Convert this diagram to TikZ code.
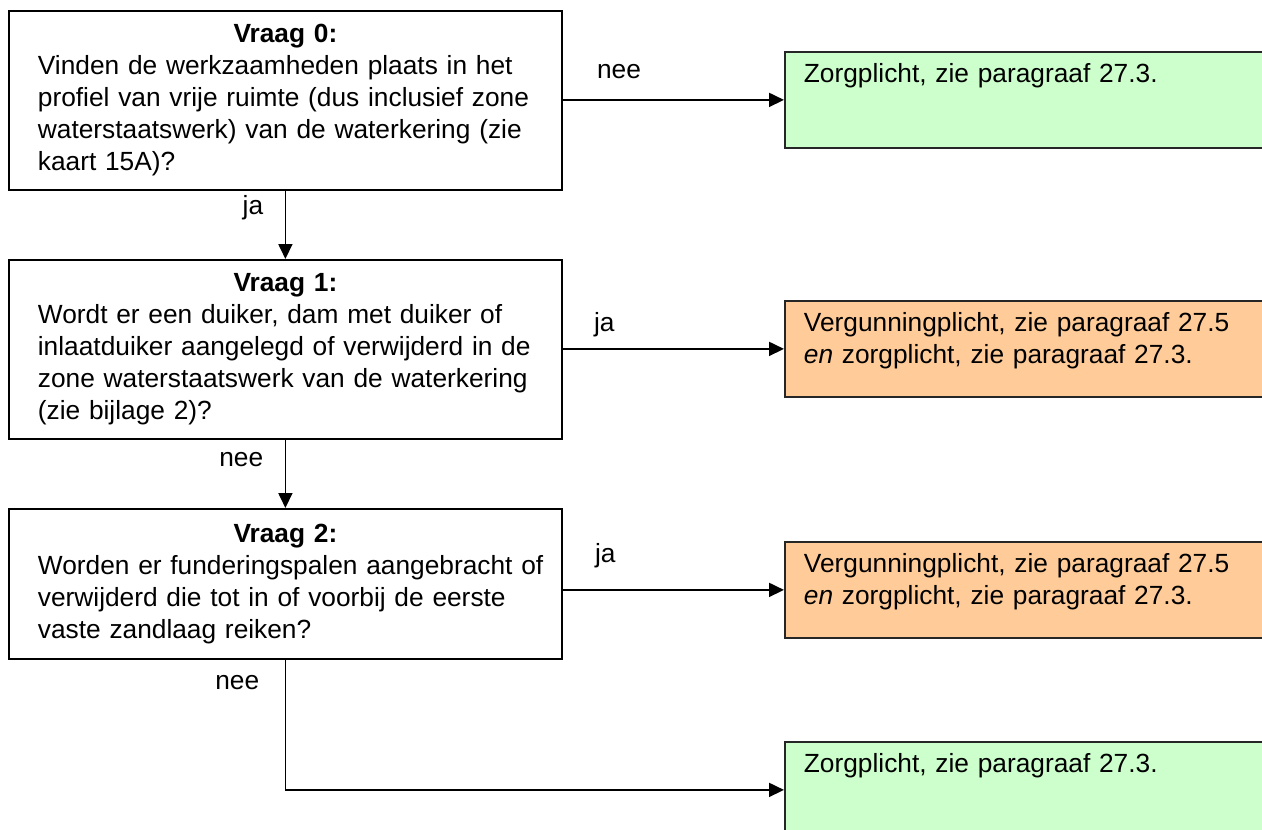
\documentclass[tikz,border=0pt]{standalone}
\usepackage{fontspec}
\setmainfont{Liberation Sans}
\usetikzlibrary{arrows.meta,positioning,calc}
\definecolor{zorgc}{RGB}{204,255,204}
\definecolor{vergc}{RGB}{255,204,153}
\tikzset{
  vraag/.style={draw, line width=1.8pt, text width=495pt, minimum width=553pt, inner sep=0pt, align=left, anchor=north west},
  uitkomst/.style={draw=black!85, line width=1.8pt, text width=500pt, inner xsep=19pt, inner ysep=0pt, text height=31pt, text depth=65pt, align=left, anchor=north west},
  pijl/.style={line width=1.8pt, -{Triangle[length=15pt,width=14pt]}},
  lbl/.style={inner sep=0pt},
}

\begin{document}
\begin{tikzpicture}[x=1pt, y=-1pt, every node/.style={font=\fontsize{26.3}{32}\selectfont}]
  \useasboundingbox (0,0) rectangle (1262,830);
  \clip (0,0) rectangle (1262,830);
  % vragen
  \node[vraag, minimum height=179pt] (q0) at (8,10) {{\centering\textbf{Vraag 0:}\par}Vinden de werkzaamheden plaats in het\\ \mbox{profiel van vrije ruimte (dus inclusief zone}\\ waterstaatswerk) van de waterkering (zie\\ kaart 15A)?};
  \node[vraag, minimum height=179pt] (q1) at (8,259) {{\centering\textbf{Vraag 1:}\par}Wordt er een duiker, dam met duiker of\\ \mbox{inlaatduiker aangelegd of verwijderd in de}\\ zone waterstaatswerk van de waterkering\\ (zie bijlage 2)?};
  \node[vraag, minimum height=150pt] (q2) at (8,508) {{\centering\textbf{Vraag 2:}\par}\mbox{Worden er funderingspalen aangebracht of}\\ verwijderd die tot in of voorbij de eerste\\ vaste zandlaag reiken?};
  % uitkomsten
  \node[uitkomst, fill=zorgc] (z0) at (784,51) {Zorgplicht, zie paragraaf 27.3.};
  \node[uitkomst, fill=vergc] (v1) at (784,300) {Vergunningplicht, zie paragraaf 27.5\\ \emph{en} zorgplicht, zie paragraaf 27.3.};
  \node[uitkomst, fill=vergc] (v2) at (784,541) {Vergunningplicht, zie paragraaf 27.5\\ \emph{en} zorgplicht, zie paragraaf 27.3.};
  \node[uitkomst, fill=zorgc] (z2) at (784,741) {Zorgplicht, zie paragraaf 27.3.};
  % pijlen
  \draw[pijl] (q0.east |- z0.west) -- (z0.west);
  \draw[pijl] (q0.south) -- (q1.north);
  \draw[pijl] (q1.east |- v1.west) -- (v1.west);
  \draw[pijl] (q1.south) -- (q2.north);
  \draw[pijl] (q2.east |- v2.west) -- (v2.west);
  \draw[pijl] (q2.south) |- (z2.west);
  % labels
  \node[lbl, anchor=base west] (l0) at ($(q0.east |- z0.west)+(34,-21)$) {nee};
  \node[lbl, anchor=base east] (l1) at ($(q0.south)+(-22,24)$) {ja};
  \node[lbl, anchor=base west] (l2) at ($(q1.east |- v1.west)+(31,-17)$) {ja};
  \node[lbl, anchor=base east] (l3) at ($(q1.south)+(-22,27)$) {nee};
  \node[lbl, anchor=base west] (l4) at ($(q2.east |- v2.west)+(32,-27)$) {ja};
  \node[lbl, anchor=base east] (l5) at ($(q2.south)+(-26,30)$) {nee};
\end{tikzpicture}
\end{document}
